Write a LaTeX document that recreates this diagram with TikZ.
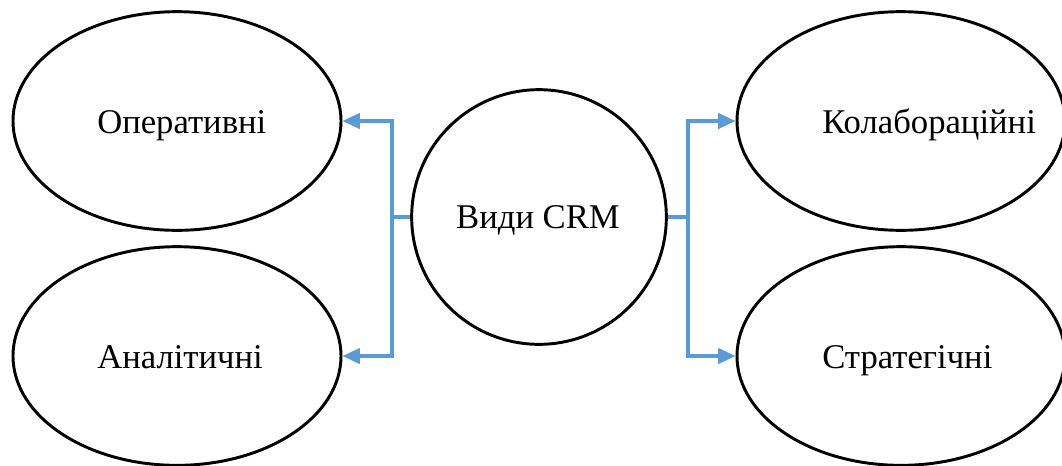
\documentclass[tikz,border=0pt]{standalone}
\usepackage{fontspec}
\setmainfont{Liberation Serif}
\usetikzlibrary{shapes.geometric,arrows.meta}
\definecolor{linkblue}{RGB}{91,155,213}
\begin{document}
\begin{tikzpicture}[x=0.75pt,y=-0.75pt,
  oval/.style={draw=black,line width=2.2pt,ellipse,fill=white,inner sep=0pt,
    minimum width=246pt,minimum height=164pt},
  hub/.style={draw=black,line width=2.2pt,circle,fill=white,inner sep=0pt,
    minimum size=191pt},
  caption/.style={font=\fontsize{26}{30}\selectfont,inner sep=0pt},
  link/.style={draw=linkblue,line width=2.3pt,line join=miter},
  tip/.style={-{Triangle[length=13pt,width=11.5pt]}}]
  \useasboundingbox (0,0) rectangle (1062,465);

  % central circle and the four categories
  \node[hub]  (crm) at (539,217) {};
  \node[oval] (op)  at (177,121) {};
  \node[oval] (an)  at (177,356) {};
  \node[oval] (kol) at (901,121) {};
  \node[oval] (str) at (901,356) {};

  % labels
  \node[caption,anchor=base]      (crmt) at (538,228) {Види CRM};
  \node[caption,anchor=base west] (opt)  at (97,133)  {Оперативні};
  \node[caption,anchor=base west] (ant)  at (97,368)  {Аналітичні};
  \node[caption,anchor=base west] (kolt) at (822,133) {Колабораційні};
  \node[caption,anchor=base west] (strt) at (822,368) {Стратегічні};

  % branching connectors
  \coordinate (lj) at (392,217);
  \coordinate (rj) at (688,217);
  \draw[link] (crm.west) -- (lj);
  \draw[link,tip] (lj) |- (op);
  \draw[link,tip] (lj) |- (an);
  \draw[link] (crm.east) -- (rj);
  \draw[link,tip] (rj) |- (kol);
  \draw[link,tip] (rj) |- (str);
\end{tikzpicture}
\end{document}
